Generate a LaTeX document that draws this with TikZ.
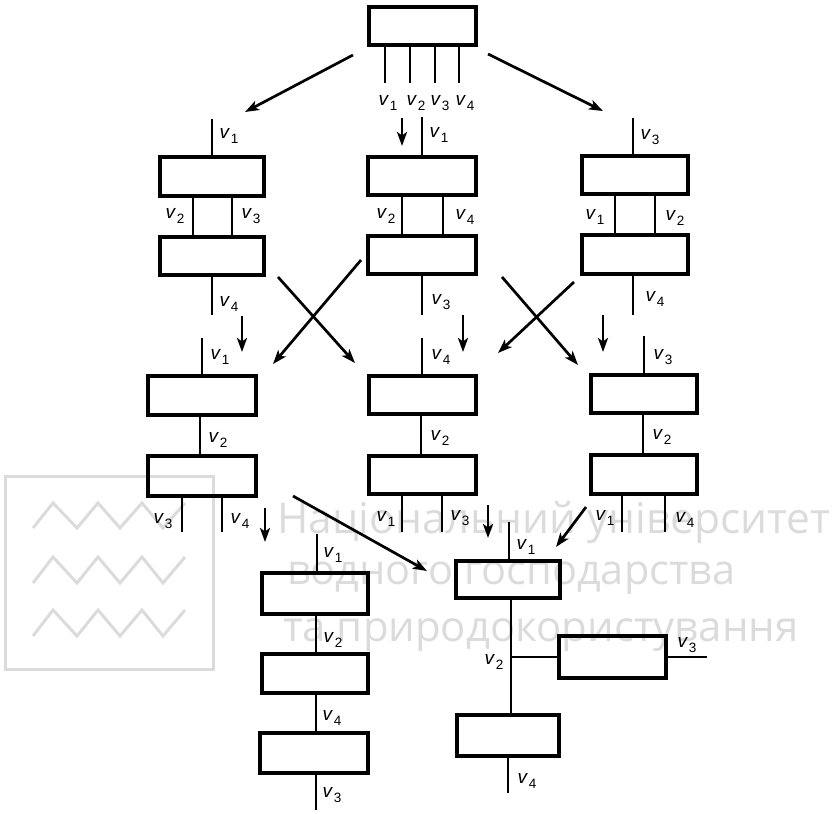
\documentclass[tikz,border=0pt]{standalone}
\usepackage{fontspec}
\setmainfont{Liberation Sans}
\newfontfamily\wmfont{Open Sans}
\usetikzlibrary{arrows.meta}
\definecolor{wmgray}{gray}{0.86}
\newcommand\vl[1]{\textit{v}\kern0.8pt\raisebox{-5pt}{\fontsize{13.5}{13.5}\selectfont #1}}
\tikzset{
  bx/.style 2 args={draw,line width=3.1pt,inner sep=0pt,outer sep=0pt,minimum width=#1pt,minimum height=#2pt},
  wire/.style={line width=2.8pt},
  arr/.style={line width=2.7pt,-{Stealth[length=14pt,width=10pt,inset=3.5pt]}},
  lab/.style={inner sep=0pt,font=\fontsize{19}{19}\selectfont},
  wmline/.style={draw=wmgray,line width=3pt},
  wmtext/.style={inner sep=0pt,anchor=base west,text=wmgray}
}
\begin{document}
\begin{tikzpicture}[x=1pt,y=-1pt]
\useasboundingbox (0,0) rectangle (833,814);
% ---------- watermark ----------
\draw[wmline] (5,476) rectangle (213,669);
\draw[wmline] (33,528) -- (53,503) -- (77,528) -- (98,503) -- (120,528) -- (142,503) -- (163,528) -- (185,503);
\draw[wmline] (33,583) -- (53,557) -- (77,583) -- (98,557) -- (120,583) -- (142,557) -- (163,583) -- (185,557);
\draw[wmline] (33,636) -- (53,610) -- (77,636) -- (98,610) -- (120,636) -- (142,610) -- (163,636) -- (185,610);
\node[wmtext] (wm1) at (277,533) {\resizebox{553pt}{!}{\wmfont Національний університет}};
\node[wmtext] (wm2) at (287,584) {\resizebox{448pt}{!}{\wmfont водного господарства}};
\node[wmtext] (wm3) at (283,641) {\resizebox{515pt}{!}{\wmfont та природокористування}};
% ---------- top ----------
\node[bx={107}{38}] (T) at (422.5,26) {};
\coordinate (t1) at (385,83); \coordinate (t2) at (410,83);
\coordinate (t3) at (435,83); \coordinate (t4) at (459,83);
\draw[wire] (T.south -| t1) -- (t1);
\draw[wire] (T.south -| t2) -- (t2);
\draw[wire] (T.south -| t3) -- (t3);
\draw[wire] (T.south -| t4) -- (t4);
\node[lab] (lt1) at (388,103) {\vl1};
\node[lab] (lt2) at (416,103) {\vl2};
\node[lab] (lt3) at (440,103) {\vl3};
\node[lab] (lt4) at (465,103) {\vl4};
% ---------- row 1 left ----------
\node[bx={104}{39}] (L1a) at (212,176.5) {};
\node[bx={104}{38}] (L1b) at (212,256) {};
\coordinate (L1i) at (212,119); \coordinate (L1o) at (212,315);
\coordinate (L1x) at (193,0); \coordinate (L1y) at (232,0);
\draw[wire] (L1i) -- (L1a.north -| L1i);
\draw[wire] (L1a.south -| L1x) -- (L1b.north -| L1x);
\draw[wire] (L1a.south -| L1y) -- (L1b.north -| L1y);
\draw[wire] (L1b.south -| L1o) -- (L1o);
\node[lab] (l11) at (229,136) {\vl1};
\node[lab] (l12) at (175,216) {\vl2};
\node[lab] (l13) at (251,216) {\vl3};
\node[lab] (l14) at (229,304) {\vl4};
% ---------- row 1 middle ----------
\node[bx={108}{38}] (M1a) at (422,176) {};
\node[bx={108}{38}] (M1b) at (422,255) {};
\coordinate (M1i) at (422,117); \coordinate (M1o) at (422,315);
\coordinate (M1x) at (402,0); \coordinate (M1y) at (443,0);
\draw[wire] (M1i) -- (M1a.north -| M1i);
\draw[wire] (M1a.south -| M1x) -- (M1b.north -| M1x);
\draw[wire] (M1a.south -| M1y) -- (M1b.north -| M1y);
\draw[wire] (M1b.south -| M1o) -- (M1o);
\node[lab] (m11) at (439,135) {\vl1};
\node[lab] (m12) at (386,216) {\vl2};
\node[lab] (m14) at (465,217) {\vl4};
\node[lab] (m13) at (441,302) {\vl3};
% ---------- row 1 right ----------
\node[bx={106}{38}] (R1a) at (635,175) {};
\node[bx={106}{39}] (R1b) at (635,254.5) {};
\coordinate (R1i) at (633,118); \coordinate (R1o) at (633,315);
\coordinate (R1x) at (615,0); \coordinate (R1y) at (655,0);
\draw[wire] (R1i) -- (R1a.north -| R1i);
\draw[wire] (R1a.south -| R1x) -- (R1b.north -| R1x);
\draw[wire] (R1a.south -| R1y) -- (R1b.north -| R1y);
\draw[wire] (R1b.south -| R1o) -- (R1o);
\node[lab] (r13) at (650,137) {\vl3};
\node[lab] (r11) at (595,217) {\vl1};
\node[lab] (r12) at (675,218) {\vl2};
\node[lab] (r14) at (655,299) {\vl4};
% ---------- row 2 left ----------
\node[bx={108}{39}] (L2a) at (202,395.5) {};
\node[bx={108}{40}] (L2b) at (202,476) {};
\coordinate (L2i) at (202,338); \coordinate (L2x) at (200,0);
\coordinate (L2o1) at (182,532); \coordinate (L2o2) at (222,532);
\draw[wire] (L2i) -- (L2a.north -| L2i);
\draw[wire] (L2a.south -| L2x) -- (L2b.north -| L2x);
\draw[wire] (L2b.south -| L2o1) -- (L2o1);
\draw[wire] (L2b.south -| L2o2) -- (L2o2);
\node[lab] (l21) at (220,357) {\vl1};
\node[lab] (l22) at (218,440) {\vl2};
\node[lab] (l23) at (163,521) {\vl3};
\node[lab] (l24) at (240,521) {\vl4};
% ---------- row 2 middle ----------
\node[bx={107}{38}] (M2a) at (422.5,395) {};
\node[bx={107}{38}] (M2b) at (422.5,475) {};
\coordinate (M2i) at (422,338); \coordinate (M2x) at (421,0);
\coordinate (M2o1) at (402,532); \coordinate (M2o2) at (442,532);
\draw[wire] (M2i) -- (M2a.north -| M2i);
\draw[wire] (M2a.south -| M2x) -- (M2b.north -| M2x);
\draw[wire] (M2b.south -| M2o1) -- (M2o1);
\draw[wire] (M2b.south -| M2o2) -- (M2o2);
\node[lab] (m24) at (441,357) {\vl4};
\node[lab] (m22) at (440,438) {\vl2};
\node[lab] (m21) at (386,519) {\vl1};
\node[lab] (m23) at (460,518) {\vl3};
% ---------- row 2 right ----------
\node[bx={106}{38}] (R2a) at (644,394) {};
\node[bx={106}{39}] (R2b) at (644,474.5) {};
\coordinate (R2i) at (644,336); \coordinate (R2x) at (643,0);
\coordinate (R2o1) at (622,532); \coordinate (R2o2) at (665,532);
\draw[wire] (R2i) -- (R2a.north -| R2i);
\draw[wire] (R2a.south -| R2x) -- (R2b.north -| R2x);
\draw[wire] (R2b.south -| R2o1) -- (R2o1);
\draw[wire] (R2b.south -| R2o2) -- (R2o2);
\node[lab] (r23) at (663,357) {\vl3};
\node[lab] (r22) at (662,437) {\vl2};
\node[lab] (r21) at (605,518) {\vl1};
\node[lab] (r24) at (685,520) {\vl4};
% ---------- row 3 left ----------
\node[bx={106}{41}] (L3a) at (315,593.5) {};
\node[bx={106}{39}] (L3b) at (315,673.5) {};
\node[bx={108}{40}] (L3c) at (314,753) {};
\coordinate (L3i) at (317,534); \coordinate (L3x) at (316,0);
\coordinate (L3o) at (316,810);
\draw[wire] (L3i) -- (L3a.north -| L3i);
\draw[wire] (L3a.south -| L3x) -- (L3b.north -| L3x);
\draw[wire] (L3b.south -| L3x) -- (L3c.north -| L3x);
\draw[wire] (L3c.south -| L3o) -- (L3o);
\node[lab] (l31) at (333,555) {\vl1};
\node[lab] (l32) at (333,640) {\vl2};
\node[lab] (l34) at (332,718) {\vl4};
\node[lab] (l33) at (332,795) {\vl3};
% ---------- row 3 right ----------
\node[bx={104}{37}] (R3a) at (508,579.5) {};
\node[bx={107}{42}] (R3s) at (612.5,657) {};
\node[bx={102}{41}] (R3b) at (508,735.5) {};
\coordinate (R3i) at (509,522); \coordinate (R3x) at (511,0);
\coordinate (R3o) at (707,657); \coordinate (R3y) at (508,793);
\draw[wire] (R3i) -- (R3a.north -| R3i);
\draw[wire] (R3a.south -| R3x) -- (R3b.north -| R3x);
\draw[wire] (R3s.west -| R3x) -- (R3s.west);
\draw[wire] (R3s.east) -- (R3o);
\draw[wire] (R3b.south -| R3y) -- (R3y);
\node[lab] (r31) at (526,547) {\vl1};
\node[lab] (r32) at (494,662) {\vl2};
\node[lab] (r33) at (687,645) {\vl3};
\node[lab] (r34) at (527,781) {\vl4};
% ---------- arrows ----------
\coordinate (a1s) at (353,55);  \coordinate (a1e) at (245,112);
\coordinate (a2s) at (488,54);  \coordinate (a2e) at (603,111);
\coordinate (a3s) at (402,118); \coordinate (a3e) at (402,146);
\draw[arr] (a1s) -- (a1e);
\draw[arr] (a2s) -- (a2e);
\draw[arr] (a3s) -- (a3e);
\coordinate (a4s) at (242,316); \coordinate (a4e) at (242,352);
\coordinate (a5s) at (463,315); \coordinate (a5e) at (463,352);
\coordinate (a6s) at (603,315); \coordinate (a6e) at (603,352);
\draw[arr] (a4s) -- (a4e);
\draw[arr] (a5s) -- (a5e);
\draw[arr] (a6s) -- (a6e);
\coordinate (x1s) at (278,277); \coordinate (x1e) at (355,363);
\coordinate (x2s) at (361,260); \coordinate (x2e) at (273,364);
\coordinate (x3s) at (502,277); \coordinate (x3e) at (578,365);
\coordinate (x4s) at (574,282); \coordinate (x4e) at (498,353);
\draw[arr] (x1s) -- (x1e);
\draw[arr] (x2s) -- (x2e);
\draw[arr] (x3s) -- (x3e);
\draw[arr] (x4s) -- (x4e);
\coordinate (b1s) at (265,508); \coordinate (b1e) at (265,542);
\coordinate (b2s) at (293,496); \coordinate (b2e) at (427,571);
\coordinate (b3s) at (488,505); \coordinate (b3e) at (488,538);
\coordinate (b4s) at (586,507); \coordinate (b4e) at (556,547);
\draw[arr] (b1s) -- (b1e);
\draw[arr] (b2s) -- (b2e);
\draw[arr] (b3s) -- (b3e);
\draw[arr] (b4s) -- (b4e);
\end{tikzpicture}
\end{document}
